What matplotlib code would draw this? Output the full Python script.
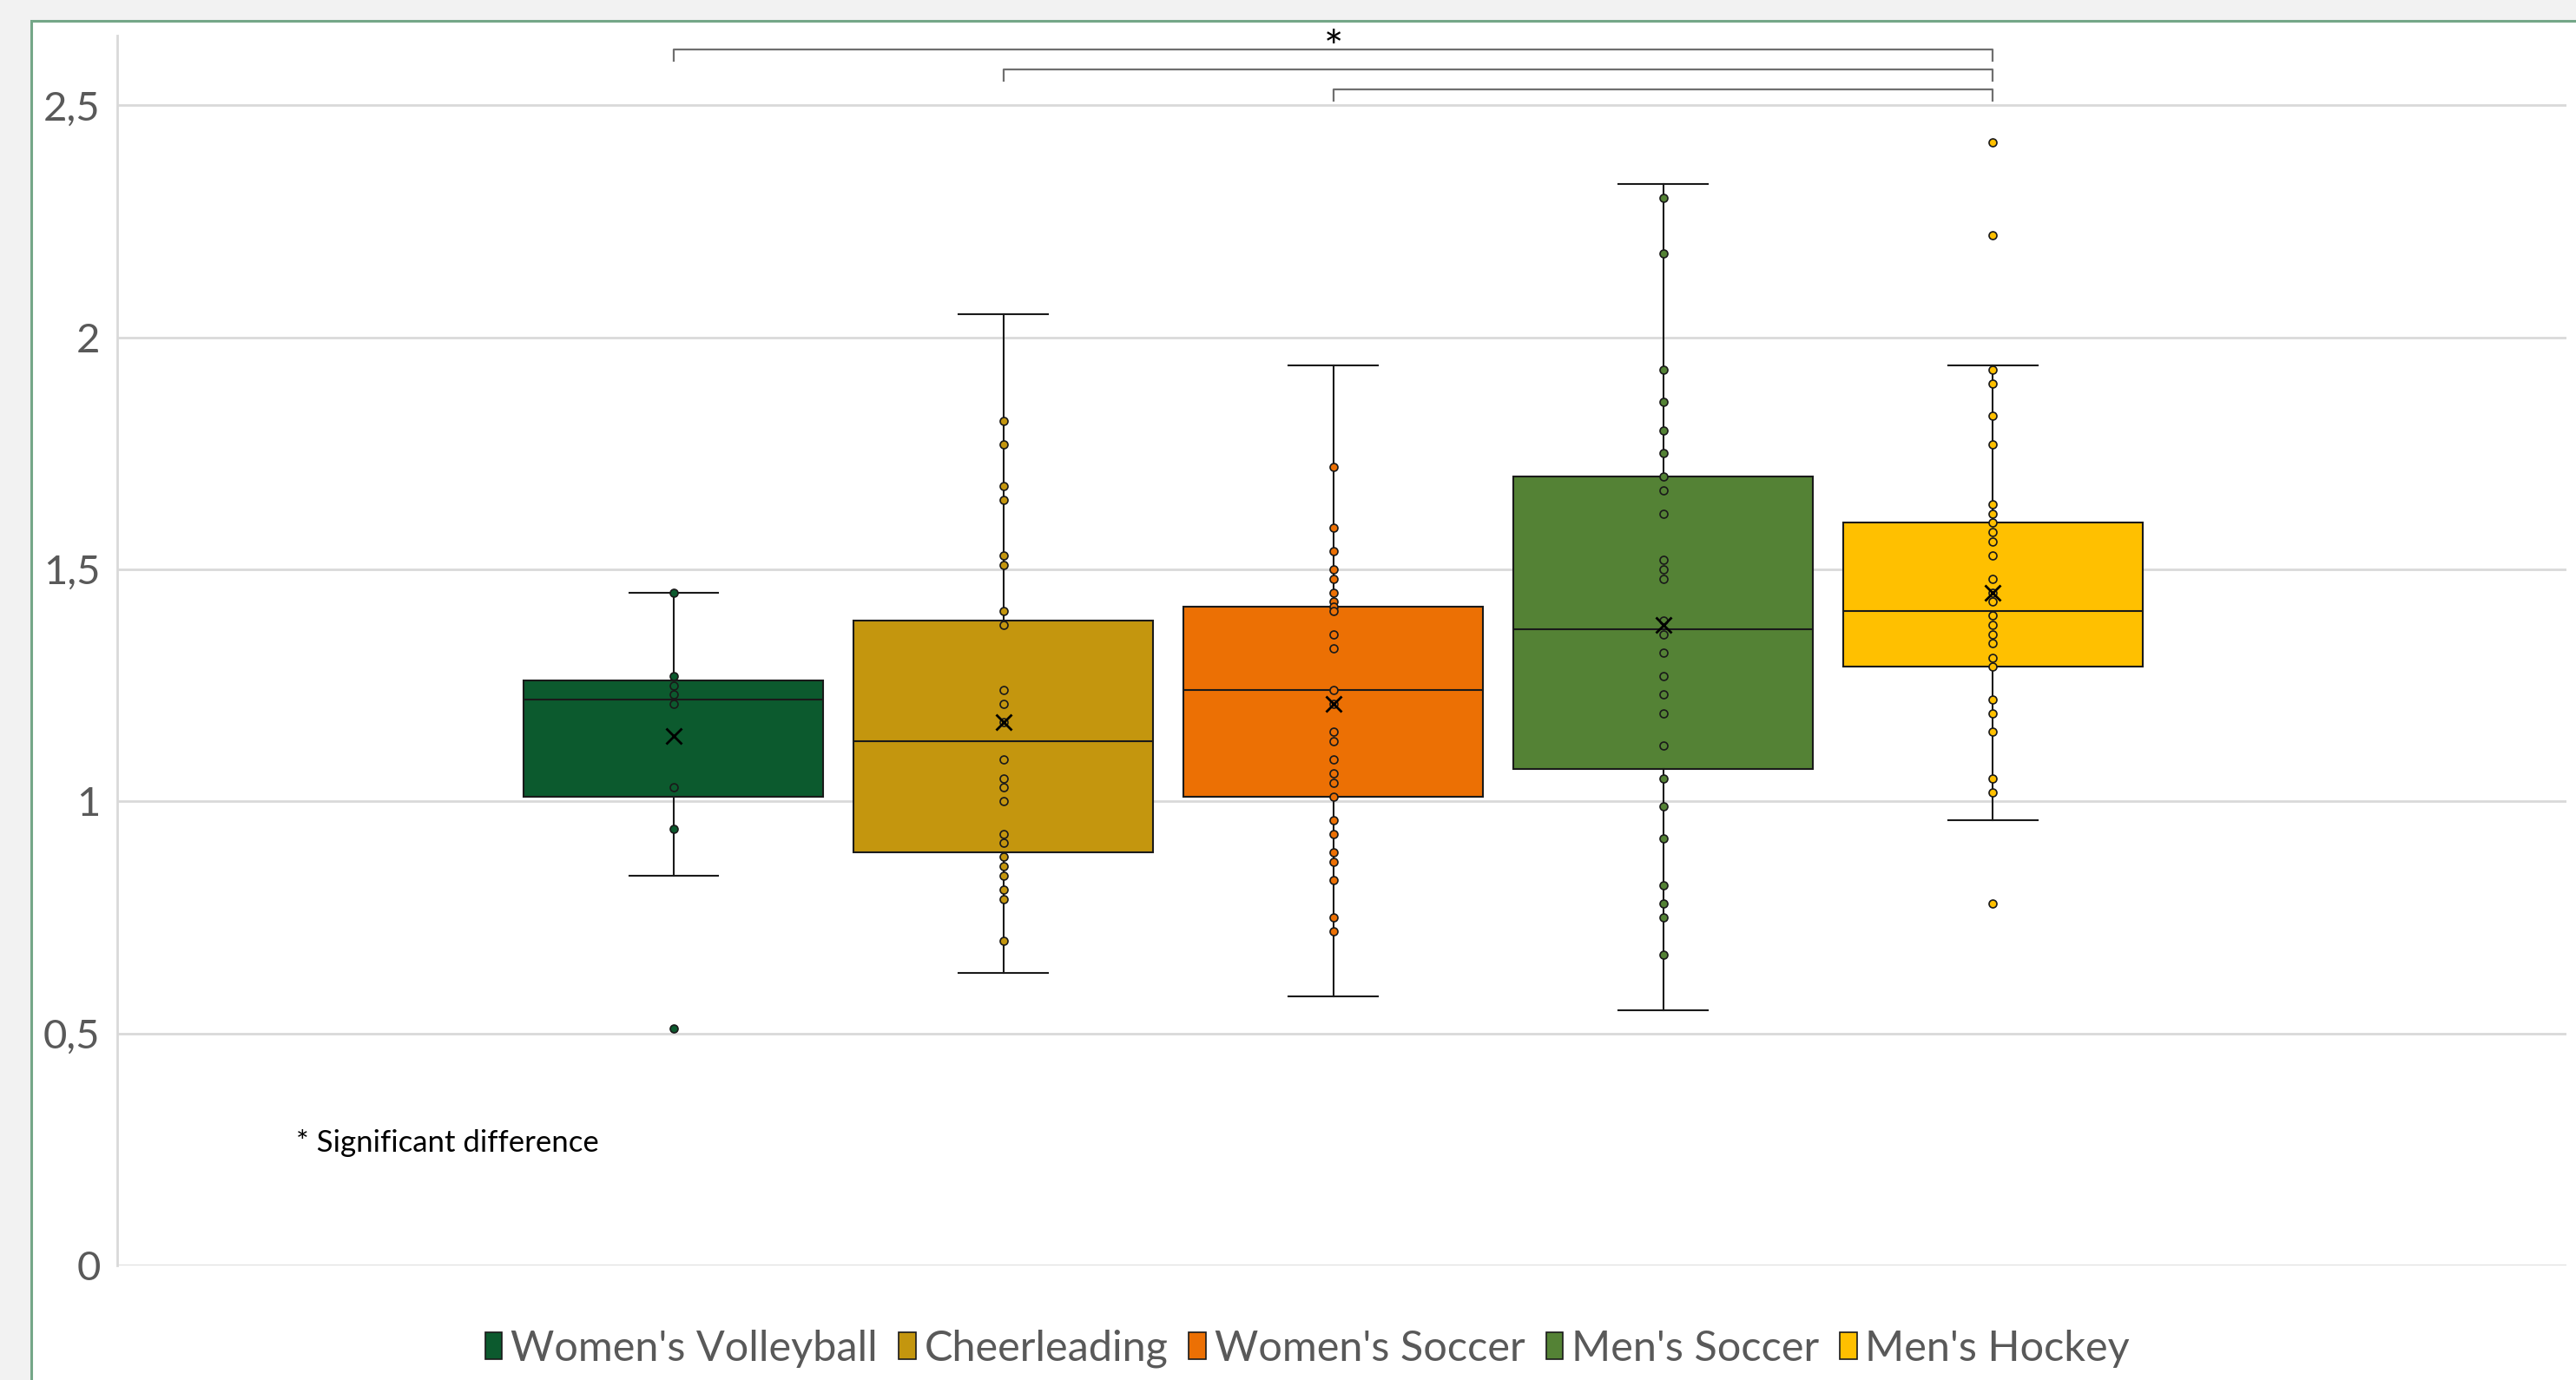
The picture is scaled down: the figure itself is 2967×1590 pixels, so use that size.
import matplotlib
matplotlib.use("Agg")
import matplotlib.pyplot as plt
from matplotlib.patches import Patch, Rectangle
from matplotlib.ticker import FuncFormatter, MultipleLocator

plt.rcParams['font.family'] = ['Lato', 'DejaVu Sans']

# Grupos e cores
grupos = ["Women's Volleyball", "Cheerleading", "Women's Soccer", "Men's Soccer", "Men's Hockey"]
cores = ['#0c5a2e', '#c4960e', '#ec7004', '#548235', '#ffc000']

# Pontos individuais de cada grupo
pts_volleyball = [1.45, 1.27, 1.25, 1.23, 1.21, 1.03, 0.94, 0.51]
pts_cheer = [1.82, 1.77, 1.68, 1.65, 1.53, 1.51, 1.41, 1.38, 1.24, 1.21, 1.17, 1.09,
             1.05, 1.03, 1.00, 0.93, 0.91, 0.88, 0.86, 0.84, 0.81, 0.79, 0.70]
pts_wsoccer = [1.72, 1.59, 1.54, 1.50, 1.48, 1.45, 1.43, 1.42, 1.41, 1.36, 1.33, 1.24, 1.21,
               1.15, 1.13, 1.09, 1.06, 1.04, 1.01, 0.96, 0.93, 0.89, 0.87, 0.83, 0.75, 0.72]
pts_msoccer = [2.30, 2.18, 1.93, 1.86, 1.80, 1.75, 1.70, 1.67, 1.62, 1.52, 1.50, 1.48, 1.39,
               1.36, 1.32, 1.27, 1.23, 1.19, 1.12, 1.05, 0.99, 0.92, 0.82, 0.78, 0.75, 0.67]
pts_hockey = [2.42, 2.22, 1.93, 1.90, 1.83, 1.77, 1.64, 1.62, 1.60, 1.58, 1.56, 1.53, 1.48, 1.45,
              1.43, 1.40, 1.38, 1.36, 1.34, 1.31, 1.29, 1.22, 1.19, 1.15, 1.05, 1.02, 0.78]
pontos = [pts_volleyball, pts_cheer, pts_wsoccer, pts_msoccer, pts_hockey]

# Estatisticas das caixas
minimos = [0.84, 0.63, 0.58, 0.55, 0.96]
q1 = [1.01, 0.89, 1.01, 1.07, 1.29]
medianas = [1.22, 1.13, 1.24, 1.37, 1.41]
q3 = [1.26, 1.39, 1.42, 1.70, 1.60]
maximos = [1.45, 2.05, 1.94, 2.33, 1.94]
medias = [1.14, 1.17, 1.21, 1.38, 1.45]

# Comparacoes significativas (indice inicial, indice final)
comparacoes = [(0, 4), (1, 4), (2, 4)]

W, H, DPI = 2967, 1590, 100
fig = plt.figure(figsize=(W / DPI, H / DPI), dpi=DPI, facecolor='#f2f2f2')

# Area do grafico (branca com borda verde)
fig.patches.append(Rectangle((36 / W, -0.05), 1.1, 1 - 24 / H + 0.05, transform=fig.transFigure,
                             facecolor='white', edgecolor='#74a788', linewidth=2.2, zorder=-5))

ax = fig.add_axes([135 / W, 1 - 1458 / H, (2956 - 135) / W, (1458 - 41) / H])
ax.set_facecolor('white')

stats = []
for i in range(len(grupos)):
    stats.append({'med': medianas[i], 'q1': q1[i], 'q3': q3[i], 'whislo': minimos[i],
                  'whishi': maximos[i], 'mean': medias[i], 'fliers': []})

pos = list(range(len(grupos)))
bp = ax.bxp(stats, positions=pos, widths=0.908, patch_artist=True, showmeans=True,
            showfliers=False,
            boxprops=dict(edgecolor='#1a1a1a', linewidth=1.5),
            medianprops=dict(color='#1a1a1a', linewidth=1.5),
            whiskerprops=dict(color='#1a1a1a', linewidth=1.5),
            capprops=dict(color='#1a1a1a', linewidth=1.5),
            capwidths=0.27,
            meanprops=dict(marker='x', markeredgecolor='black', markersize=13,
                           markeredgewidth=2.0, zorder=6))
for caixa, cor in zip(bp['boxes'], cores):
    caixa.set_facecolor(cor)

# Pontos internos
for i, valores in enumerate(pontos):
    ax.scatter([pos[i]] * len(valores), valores, s=42, color=cores[i],
               edgecolor='#1a1a1a', linewidth=1.2, zorder=5)

ax.set_xlim(-1.687, 5.739)
ax.set_ylim(0, 2.65)
ax.yaxis.set_major_locator(MultipleLocator(0.5))
ax.yaxis.set_major_formatter(FuncFormatter(lambda v, p: f"{v:g}".replace('.', ',')))
ax.grid(axis='y', color='#d9d9d9', linewidth=2)
ax.set_axisbelow(True)
ax.set_xticks([])
ax.tick_params(axis='y', length=0, labelsize=34, labelcolor='#595959', pad=14)
for lado in ['top', 'right', 'bottom']:
    ax.spines[lado].set_visible(False)
ax.spines['left'].set_color('#d9d9d9')
ax.spines['left'].set_linewidth(2)

# Colchetes de significancia
alturas = [2.62, 2.577, 2.534]
for (a, b), y in zip(comparacoes, alturas):
    ax.plot([pos[a], pos[a], pos[b], pos[b]], [y - 0.025, y, y, y - 0.025],
            color='#6f6f6f', linewidth=1.6, clip_on=False)
ax.text(2.0, 2.59, '*', ha='center', va='baseline', fontsize=38, color='black', clip_on=False)

fig.text(341 / W, 1 - 1317 / H, '* Significant difference', ha='left', va='center',
         fontsize=25, color='black')

handles = [Patch(facecolor=c, edgecolor='#1a1a1a', linewidth=1.2) for c in cores]
fig.legend(handles, grupos, loc='center', bbox_to_anchor=(1506 / W, 1 - 1554 / H), ncol=5,
           frameon=False, fontsize=35, labelcolor='#595959', handlelength=0.4,
           handleheight=0.6, handletextpad=0.2, columnspacing=0.5)

fig.savefig('out.png', dpi=DPI, facecolor=fig.get_facecolor())
